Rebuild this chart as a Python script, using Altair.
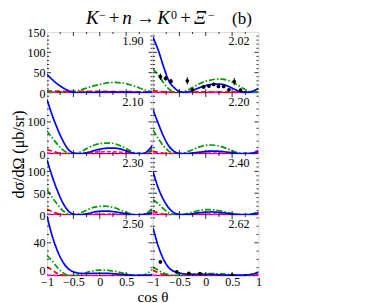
import altair as alt
import pandas as pd

FONT = "Liberation Serif"
W, H = 105.5, 61

COS = [-1.0, -0.9, -0.8, -0.7, -0.6, -0.5, -0.4, -0.3, -0.2, -0.1, 0.0,
       0.1, 0.2, 0.3, 0.4, 0.5, 0.6, 0.7, 0.8, 0.9, 1.0]

ENERGIES = ["1.90", "2.02", "2.10", "2.20", "2.30", "2.40", "2.50", "2.62"]

BLUE = {
    "1.90": [46, 33, 22, 13, 6, 2, 0.5, 0.5, 1, 1.5, 2, 2.5, 2.5, 2.5, 2.5, 2, 1.5, 1, 1, 1.5, 3],
    "2.02": [137, 105, 65, 30, 13, 4, 1.5, 4, 9, 14, 18, 21, 22, 21.5, 18, 12, 6, 2, 2, 5, 11],
    "2.10": [170, 120, 78, 42, 15, 3, 1, 2, 6, 11, 15, 17.5, 18.5, 18, 15, 10, 4, 1, 1, 8, 28],
    "2.20": [138, 95, 55, 25, 8, 2, 1, 2, 4, 6, 8, 9, 9, 8, 6, 4, 2, 1, 1, 3, 8],
    "2.30": [127, 88, 55, 28, 10, 2, 0.5, 1.5, 4, 7, 8.5, 9, 8.5, 7, 5, 3, 1, 0.5, 1, 3, 7],
    "2.40": [100, 62, 35, 16, 5, 1.5, 1, 2, 4, 5.5, 6.5, 7, 6.5, 5.5, 4, 2.5, 1.5, 1, 1, 2, 5],
    "2.50": [72, 48, 30, 17, 9, 5, 3.5, 3, 3, 3.2, 3.3, 3.2, 3, 2.5, 2, 1.5, 1, 0.8, 0.8, 1, 2],
    "2.62": [58, 36, 20, 10, 5.5, 3.5, 2.5, 2, 2, 2, 2, 1.8, 1.6, 1.3, 1, 1, 1, 1, 1.5, 2.5, 4.5],
}
GREEN = {
    "1.90": [3, 2, 1, 0.5, 1, 3, 6, 10, 14, 18, 21, 24, 25.5, 26, 25, 23, 19, 15, 10, 6, 3],
    "2.02": [58, 45, 25, 10, 2, 1, 4, 10, 17, 24, 29, 32, 34, 34, 32, 27, 20, 12, 5, 2, 3],
    "2.10": [72, 50, 30, 13, 3, 1, 4, 12, 21, 28, 32, 34, 34, 31, 25, 17, 8, 2, 0.5, 4, 18],
    "2.20": [75, 48, 25, 9, 2, 1, 4, 10, 17, 23, 27, 28, 27, 23, 17, 10, 4, 1, 1, 3, 8],
    "2.30": [58, 40, 24, 10, 2, 0.5, 3, 8, 14, 18, 20, 20.5, 19, 16, 11, 6, 2, 0.5, 1, 5, 16],
    "2.40": [35, 26, 14, 5, 1, 0.5, 2, 5, 8, 11, 12.5, 12.5, 11, 9, 6, 3.5, 1.5, 0.5, 1, 3, 8.5],
    "2.50": [25, 18, 10, 4, 1, 0.5, 1.5, 3, 5, 6.5, 7, 7, 6.5, 5.5, 4, 2.5, 1.2, 0.5, 0.8, 3, 8],
    "2.62": [11, 7, 3.5, 1.5, 0.8, 1, 1.5, 2, 2.5, 3, 3, 3, 2.8, 2.5, 2, 1.5, 1, 0.8, 1, 2, 5],
}
RED = {
    "1.90": [5, 4.5, 4.5, 4, 4, 4, 4, 4, 4, 4, 4, 4, 4, 3.5, 3.5, 3.5, 3.5, 3, 3, 3, 3],
    "2.02": [6, 4, 3, 2.5, 2, 2, 2, 2, 2, 2, 2, 2, 2, 2, 2, 2, 2, 2, 2, 2, 2.5],
    "2.10": [14, 9, 4, 1.5, 1, 0.5, 0.5, 0.5, 0.5, 0.5, 0.5, 0.5, 0.5, 0.5, 0.5, 0.5, 0.5, 0.5, 1, 3, 10],
    "2.20": [8, 5, 2, 1, 0.5, 0.5, 0.5, 0.5, 0.5, 0.5, 0.5, 0.5, 0.5, 0.5, 0.5, 0.5, 0.5, 0.5, 0.5, 1, 4],
    "2.30": [13, 8, 3.5, 1, 0.5, 0.5, 0.5, 0.5, 0.5, 0.5, 0.5, 0.5, 0.5, 0.5, 0.5, 0.5, 0.5, 0.5, 0.5, 1, 3],
    "2.40": [8, 5, 2, 0.8, 0.5, 0.5, 0.5, 0.5, 0.5, 0.5, 0.5, 0.5, 0.5, 0.5, 0.5, 0.5, 0.5, 0.5, 0.5, 1, 3],
    "2.50": [11, 7, 3, 1, 0.5, 0.3, 0.3, 0.3, 0.3, 0.3, 0.3, 0.3, 0.3, 0.3, 0.3, 0.3, 0.3, 0.3, 0.3, 0.5, 1],
    "2.62": [7, 4, 1.5, 0.5, 0.3, 0.3, 0.3, 0.3, 0.3, 0.3, 0.3, 0.3, 0.3, 0.3, 0.3, 0.3, 0.3, 0.3, 0.3, 0.5, 1],
}
MAGENTA = {
    "1.90": [2, 2, 2, 2, 2, 2, 2, 2.5, 3, 3, 3, 3, 3, 3, 3, 2.5, 2.5, 2, 2, 2, 2],
    "2.02": [2, 2, 2, 2, 2, 2, 2, 2, 2, 2, 2, 2, 2, 2, 2, 2, 2, 2, 2, 2, 2],
    "2.10": [3, 2, 1.5, 1, 1, 1, 1.5, 2.5, 4, 5.5, 6.5, 7, 7, 6.5, 5.5, 4, 2.5, 1.5, 1.5, 4, 10],
    "2.20": [2, 1.5, 1, 1, 1, 1, 1.5, 2, 2.5, 3, 3, 3, 3, 2.5, 2, 1.5, 1, 1, 2, 5, 12],
    "2.30": [2, 1.5, 1, 1, 1, 1, 1, 1.5, 2, 2, 2, 2, 2, 2, 1.5, 1, 1, 1, 1, 2, 4],
    "2.40": [2, 1.5, 1, 1, 1, 1, 1, 1.5, 2, 2, 2, 2, 2, 2, 1.5, 1, 1, 1, 1, 2, 5],
    "2.50": [1, 0.8, 0.6, 0.5, 0.5, 0.5, 0.5, 0.5, 0.5, 0.5, 0.5, 0.5, 0.5, 0.5, 0.5, 0.5, 0.5, 0.5, 0.5, 0.8, 1.5],
    "2.62": [0.8, 0.6, 0.5, 0.5, 0.5, 0.5, 0.5, 0.5, 0.5, 0.5, 0.5, 0.5, 0.5, 0.5, 0.5, 0.5, 0.5, 0.5, 0.6, 1, 2],
}
DARKRED_LEVEL = [0.3, 0.3, 0.3, 0.3, 0.3, 0.3, 0.3, 0.3, 0.3, 0.3, 0.3,
                 0.3, 0.3, 0.3, 0.3, 0.3, 0.3, 0.3, 0.3, 0.3, 0.3]
DARKRED = {e: DARKRED_LEVEL for e in ENERGIES}

# experimental points
PTS = {
    "2.02": {
        "x": [-0.86, -0.76, -0.66, -0.35, -0.25, -0.04, 0.06, 0.15, 0.24, 0.34, 0.44, 0.54, 0.66],
        "y": [40, 36, 29, 30, 8, 15, 17, 21, 16, 16, 8, 28, 7],
        "e": [8, 6, 6, 9, 4, 4, 4, 4, 4, 4, 4, 9, 4],
    },
    "2.62": {
        "x": [-0.86, -0.55, -0.32, -0.11, 0.5],
        "y": [17, 5, 3.2, 2.8, 1.2],
        "e": [1.5, 0.8, 0.6, 0.6, 0.5],
    },
}

Y_MAX = [150, 190, 140, 73.5]
Y_LABELS = [[0, 50, 100, 150], [0, 100], [0, 50, 100], [0, 40]]
Y_MAJOR = [[50, 100], [100], [50, 100], [40]]
Y_MINOR = [[10, 20, 30, 40, 60, 70, 80, 90, 110, 120, 130, 140],
           [20, 40, 60, 80, 120, 140, 160, 180],
           [10, 20, 30, 40, 60, 70, 80, 90, 110, 120, 130],
           [10, 20, 30, 50, 60, 70]]
X_MAJOR = [-0.5, 0.0, 0.5]
X_MINOR = [-0.75, -0.25, 0.25, 0.75]
X_LABELS = [[-1, -0.5, 0, 0.5], [-1, -0.5, 0, 0.5, 1]]

SERIES = [
    ("darkred", DARKRED, "#8b0000", [1, 0]),
    ("magenta", MAGENTA, "#ff00ff", [4, 2]),
    ("red", RED, "#ff0000", [5, 3]),
    ("green", GREEN, "#009a00", [6, 2, 1.5, 2]),
    ("blue", BLUE, "#0000ff", [1, 0]),
]

TITLE_PIECES = [  # text, x center (px from panel left), baseline y, size, style
    ("K", 45.3, -8, 19, "italic"),
    ("\u2212", 55.3, -13, 12, "normal"),
    ("+", 67, -8, 19, "normal"),
    ("n", 80, -8, 19, "italic"),
    ("\u2192", 98.5, -8, 19, "normal"),
    ("K", 116.7, -8, 19, "italic"),
    ("0", 127, -13, 12, "normal"),
    ("+", 138.7, -8, 19, "normal"),
    ("\u039e", 153, -8, 19, "italic"),
    ("\u2212", 164.5, -13, 12, "normal"),
    ("(b)", 195, -8, 17, "normal"),
]


def panel(idx):
    row, col = divmod(idx, 2)
    e = ENERGIES[idx]
    xs = alt.Scale(domain=[-1, 1], nice=False, zero=False)
    ys = alt.Scale(domain=[0, Y_MAX[row]], nice=False, zero=False)

    if row == 3:
        xt = dict(title="cos \u03b8", titleX=W, titleY=20.5, titleFont=FONT,
                  titleFontSize=15, titleFontWeight="normal", titleBaseline="middle",
                  titleColor="black") if col == 0 else dict(title=None)
        x_axis = alt.Axis(values=X_LABELS[col], format="~g", ticks=False, domain=False,
                          grid=False, labelFont=FONT, labelFontSize=12, labelColor="black",
                          labelPadding=0, labelFlush=False, labelOverlap=False, **xt)
    else:
        x_axis = None
    if col == 0:
        yt = dict(title="d\u03c3/d\u03a9 (\u03bcb/sr)", titleX=-29, titleY=H,
                  titleFont=FONT, titleFontSize=16, titleFontWeight="normal",
                  titleBaseline="middle", titleAlign="center", titleAngle=-90,
                  titleColor="black") if row == 1 else dict(title=None)
        extra = {}
        if row == 3:
            extra["labelOffset"] = {"condition": {"test": "datum.value == 0", "value": -6},
                                    "value": 0}
        y_axis = alt.Axis(values=Y_LABELS[row], ticks=False, domain=False, grid=False,
                          labelFont=FONT, labelFontSize=12, labelColor="black",
                          labelPadding=2, labelFlush=False, labelOverlap=False,
                          **yt, **extra)
    else:
        y_axis = None

    def X(field):
        return alt.X(field, type="quantitative", scale=xs, axis=x_axis)

    def Y(field):
        return alt.Y(field, type="quantitative", scale=ys, axis=y_axis)

    layers = []
    for name, d, color, dash in SERIES:
        df = pd.DataFrame({"x": COS, "y": d[e]})
        layers.append(
            alt.Chart(df).mark_line(color=color, strokeDash=dash, strokeWidth=1.7,
                                    clip=True, interpolate="monotone")
            .encode(x=X("x"), y=Y("y"))
        )

    if e in PTS:
        p = PTS[e]
        pdf = pd.DataFrame({"x": p["x"], "y": p["y"], "e": p["e"]})
        pdf["lo"] = pdf["y"] - pdf["e"]
        pdf["hi"] = pdf["y"] + pdf["e"]
        layers.append(alt.Chart(pdf).mark_rule(color="black", strokeWidth=1, clip=True)
                      .encode(x=X("x"), y=Y("lo"), y2="hi:Q"))
        layers.append(alt.Chart(pdf).mark_point(filled=True, color="black", opacity=1,
                                                size=14, shape="circle", clip=True)
                      .encode(x=X("x"), y=Y("y")))

    # inward frame ticks
    xmaj = pd.DataFrame({"x": X_MAJOR})
    xmin = pd.DataFrame({"x": X_MINOR})
    for tdf, L in ((xmaj, 4), (xmin, 2)):
        layers.append(alt.Chart(tdf).mark_rule(color="black", strokeWidth=0.8)
                      .encode(x=X("x"), y=alt.value(H), y2=alt.value(H - L)))
        layers.append(alt.Chart(tdf).mark_rule(color="black", strokeWidth=0.8)
                      .encode(x=X("x"), y=alt.value(0), y2=alt.value(L)))
    ymaj = pd.DataFrame({"y": Y_MAJOR[row]})
    ymin = pd.DataFrame({"y": Y_MINOR[row]})
    for tdf, L in ((ymaj, 4), (ymin, 2)):
        layers.append(alt.Chart(tdf).mark_rule(color="black", strokeWidth=0.8)
                      .encode(y=Y("y"), x=alt.value(0), x2=alt.value(L)))
        layers.append(alt.Chart(tdf).mark_rule(color="black", strokeWidth=0.8)
                      .encode(y=Y("y"), x=alt.value(W), x2=alt.value(W - L)))

    lab = pd.DataFrame({"t": [e]})
    layers.append(alt.Chart(lab).mark_text(font=FONT, fontSize=12, align="right",
                                           baseline="middle", color="black")
                  .encode(text="t:N", x=alt.value(W - 9), y=alt.value(8.5)))

    if idx == 0:
        for t, xc, yb, fs, st in TITLE_PIECES:
            tdf = pd.DataFrame({"t": [t]})
            layers.append(alt.Chart(tdf).mark_text(font=FONT, fontSize=fs, fontStyle=st,
                                                   align="center", baseline="alphabetic",
                                                   color="black")
                          .encode(text="t:N", x=alt.value(xc), y=alt.value(yb)))

    return alt.layer(*layers).properties(width=W, height=H)


chart = alt.concat(*[panel(i) for i in range(8)], columns=2, spacing=0, bounds="flush").properties(
    padding={"left": 1, "top": 0, "right": 5, "bottom": 0}
).configure_view(stroke="black", strokeWidth=1).configure(background="white")

chart.save("out.html", embed_options={"renderer": "svg", "actions": False})
